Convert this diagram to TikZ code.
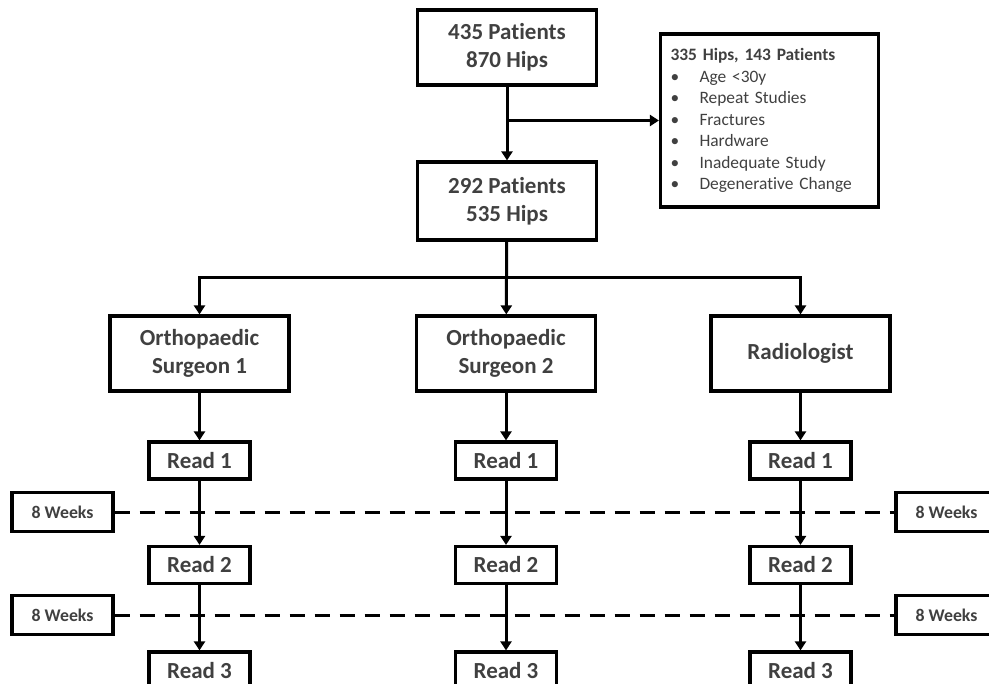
\documentclass[tikz,border=0pt]{standalone}
\usepackage{fontspec}
\setmainfont{Carlito}[Ligatures=NoCommon]
\usetikzlibrary{arrows.meta}
\definecolor{txtgray}{HTML}{404040}
\newcommand\itembul{\makebox[14.5pt][l]{\textbullet}}
\begin{document}
\begin{tikzpicture}[x=0.5pt,y=-0.5pt,
  box/.style={draw, line width=1.6pt, text=txtgray, align=center, inner sep=0pt, font=\fontsize{11.5}{14}\selectfont\bfseries},
  bigbox/.style={box, minimum width=89.5pt, minimum height=37.5pt},
  readbox/.style={box, minimum width=50.5pt, minimum height=18.5pt},
  weekbox/.style={box, minimum width=50.5pt, minimum height=19.5pt, font=\fontsize{8.9}{10}\selectfont\bfseries},
  arr/.style={line width=1.5pt, -{Triangle[length=4.5pt,width=5.5pt]}},
  gap/.style={line width=1.5pt, dash pattern=on 7.5pt off 5pt}]
\useasboundingbox (0,0) rectangle (989,684);
\clip (0,0) rectangle (989,684);
\node[bigbox] (top) at (507,47.5){435 Patients\\870 Hips};
\node[bigbox, minimum height=39pt] (mid) at (507,201){292 Patients\\535 Hips};
\node[draw, line width=1.6pt, text=txtgray, minimum height=86.5pt, text width=99pt, inner xsep=5pt, align=left, font=\fontsize{8.7}{10.75}\selectfont] (excl) at (769.5,120.5){\textbf{335 Hips, 143 Patients}\\\itembul Age <30y\\\itembul Repeat Studies\\\itembul Fractures\\\itembul Hardware\\\itembul Inadequate Study\\\itembul Degenerative Change};
\draw[arr](top) -- (mid);
\draw[arr](top.south |- excl.west) -- (excl.west);
\node[bigbox] (surg1) at (199.5,353.5){Orthopaedic\\Surgeon 1};
\node[bigbox] (surg2) at (506,353.5){Orthopaedic\\Surgeon 2};
\node[bigbox] (rad) at (800.5,353.5){Radiologist};
\coordinate (bar) at (506,277);
\draw[arr](mid) -- (surg2);
\draw[arr](bar) -| (surg1);
\draw[arr](bar) -| (rad);
\node[weekbox] (wl1) at (62.5,512){8 Weeks};
\node[weekbox] (wr1) at (946.5,512){8 Weeks};
\node[weekbox] (wl2) at (62.5,615){8 Weeks};
\node[weekbox] (wr2) at (946.5,615){8 Weeks};
\draw[gap](wl1) -- (wr1);
\draw[gap](wl2) -- (wr2);
\foreach \c/\x/\s in {a/199.5/surg1, b/506/surg2, c/800.5/rad}{
  \node[readbox] (read1\c) at (\x,460.5){Read 1};
  \node[readbox] (read2\c) at (\x,565){Read 2};
  \node[readbox] (read3\c) at (\x,670.5){Read 3};
  \draw[arr](\s) -- (read1\c);
  \draw[arr](read1\c) -- (read2\c);
  \draw[arr](read2\c) -- (read3\c);
}
\end{tikzpicture}
\end{document}
